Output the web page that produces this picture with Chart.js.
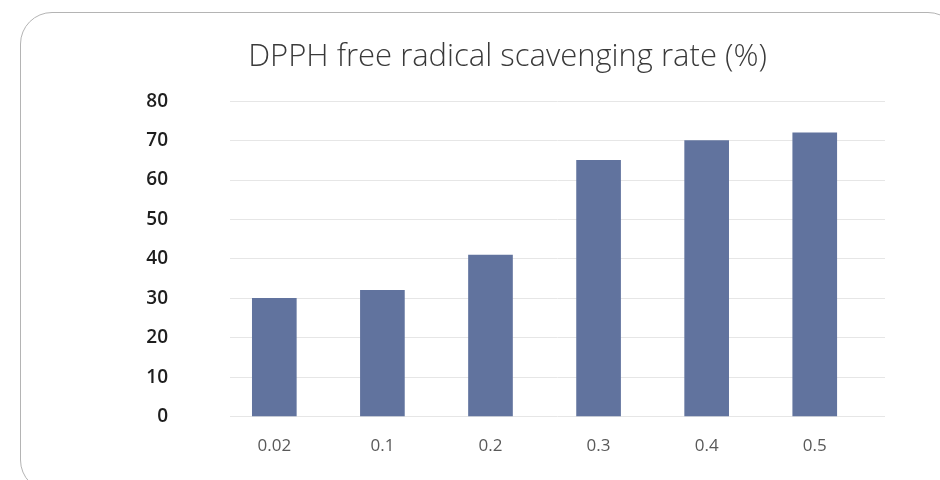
<!DOCTYPE html>
<html>
<head>
<meta charset="utf-8">
<script src="https://cdn.jsdelivr.net/npm/chart.js@4"></script>
<style>
  html, body { margin: 0; padding: 0; background: #fff; }
  #wrap { position: relative; width: 940px; height: 480px; overflow: hidden; }
  #frame {
    position: absolute; left: 20px; top: 12px; width: 940px; height: 480px;
    border: 1.5px solid #b4b4b4; border-radius: 32px; box-sizing: border-box;
  }
  #c { position: absolute; left: 0; top: 0; }
</style>
</head>
<body>
<div id="wrap">
  <div id="frame"></div>
  <canvas id="c" width="940" height="490"></canvas>
</div>
<script>
'use strict';

// ── Data ──────────────────────────────────────────────────────────────────────
const CATEGORIES = ['0.02', '0.1', '0.2', '0.3', '0.4', '0.5'];
const RATES = [30, 32, 41, 65, 70, 72];
const Y_TICKS = [0, 10, 20, 30, 40, 50, 60, 70, 80];

const BAR_COLOR = '#61739e';
const GRID_COLOR = '#e6e6e6';

// bars are placed on a linear x axis (index) so the grid can run a bit past the last band
const points = RATES.map((v, i) => ({ x: i, y: v }));

new Chart(document.getElementById('c'), {
  type: 'bar',
  data: {
    datasets: [{
      data: points,
      backgroundColor: BAR_COLOR,
      barThickness: 44,
    }],
  },
  options: {
    responsive: false,
    animation: false,
    layout: { padding: { left: 130, right: 55, top: 8, bottom: 0 } },
    plugins: {
      legend: { display: false },
      tooltip: { enabled: false },
      title: {
        display: true,
        text: 'DPPH free radical scavenging rate (%)',
        color: '#3a3a3a',
        font: { family: 'Open Sans', size: 31, weight: '300' },
        padding: { top: 31, bottom: 25 },
      },
    },
    scales: {
      x: {
        type: 'linear',
        offset: false,
        min: -0.41,
        max: 5.65,
        grid: { display: false },
        border: { display: false },
        afterBuildTicks: (scale) => {
          scale.ticks = CATEGORIES.map((_, i) => ({ value: i }));
        },
        afterFit: (scale) => { scale.height = 64; },
        ticks: {
          color: '#595959',
          font: { family: 'Open Sans', size: 17, weight: '400' },
          padding: 11,
          callback: (v) => CATEGORIES[v] ?? '',
        },
      },
      y: {
        min: 0,
        max: 80,
        afterBuildTicks: (scale) => {
          scale.ticks = Y_TICKS.map((v) => ({ value: v }));
        },
        grid: { color: GRID_COLOR, drawTicks: false, lineWidth: 1 },
        border: { display: false },
        afterFit: (scale) => { scale.width = 100; },
        ticks: {
          color: '#1e1e1e',
          font: { family: 'Open Sans', size: 19, weight: '600' },
          padding: 62,
        },
      },
    },
  },
});
</script>
</body>
</html>
